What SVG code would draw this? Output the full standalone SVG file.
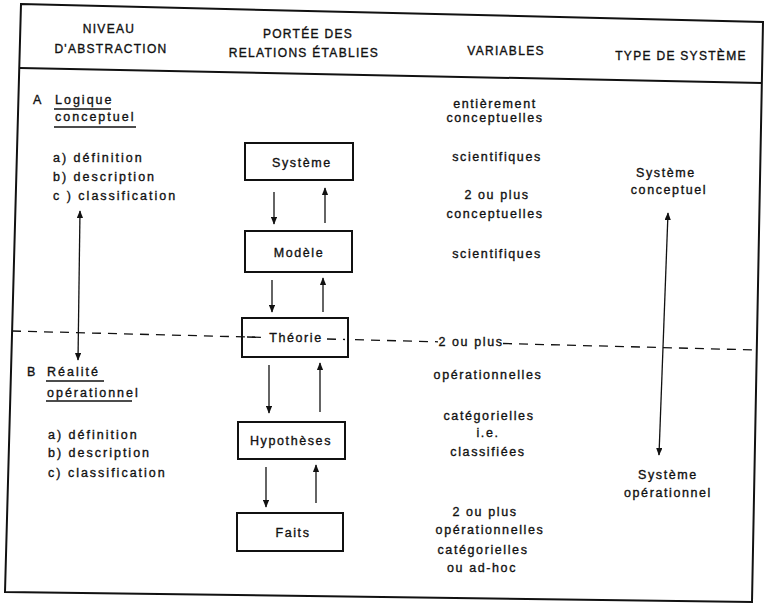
<svg xmlns="http://www.w3.org/2000/svg" width="766" height="606" viewBox="0 0 766 606">
<defs>
<style>
text{font-family:"Liberation Sans",Arial,sans-serif;fill:#111;stroke:#111;stroke-width:0.35px;}
.h{font-size:12px;letter-spacing:1.3px;text-anchor:middle;}
.t{font-size:12.5px;letter-spacing:2px;}
.c{font-size:12.5px;letter-spacing:1.6px;text-anchor:middle;}
.b{font-size:12.5px;letter-spacing:1.6px;text-anchor:middle;}
.frame{fill:none;stroke:#111;stroke-width:2;}
.box{fill:none;stroke:#111;stroke-width:2;}
.ar{stroke:#111;stroke-width:1.3;fill:none;marker-end:url(#ah);}
.dar{stroke:#111;stroke-width:1.3;fill:none;marker-start:url(#ah);marker-end:url(#ah);}
.ul{stroke:#111;stroke-width:1.5;}
.dash{stroke:#111;stroke-width:1.3;stroke-dasharray:9 7;fill:none;}
</style>
<marker id="ah" viewBox="0 0 10 8" refX="9" refY="4" markerWidth="8" markerHeight="6.4" markerUnits="userSpaceOnUse" orient="auto-start-reverse">
<path d="M0,0 L10,4 L0,8 z" fill="#111"/>
</marker>
</defs>

<g id="frame">
<path class="frame" d="M21,4 L763,22 L752,602 L5,592 Z"/>
<line class="frame" x1="20" y1="68" x2="762" y2="83"/>
</g>

<g id="headers">
<text class="h" x="109" y="33">NIVEAU</text>
<text class="h" x="111" y="53">D'ABSTRACTION</text>
<text class="h" x="308" y="38">PORTÉE DES</text>
<text class="h" x="304" y="57">RELATIONS ÉTABLIES</text>
<text class="h" x="506" y="55">VARIABLES</text>
<text class="h" x="681" y="60">TYPE DE SYSTÈME</text>
</g>

<g id="niveau-A">
<text class="t" x="33" y="104">A</text>
<text class="t" x="55" y="104">Logique</text>
<line class="ul" x1="54" y1="109" x2="111" y2="109"/>
<text class="t" x="55" y="121">conceptuel</text>
<line class="ul" x1="54" y1="127" x2="136" y2="127"/>
<text class="t" x="53" y="162">a)  définition</text>
<text class="t" x="53" y="181">b)  description</text>
<text class="t" x="53" y="200">c )  classification</text>
</g>

<g id="niveau-B">
<text class="t" x="27" y="376">B</text>
<text class="t" x="47" y="376">Réalité</text>
<line class="ul" x1="46" y1="381" x2="104" y2="381"/>
<text class="t" x="47" y="397">opérationnel</text>
<line class="ul" x1="46" y1="401" x2="132" y2="401"/>
<text class="t" x="48" y="439">a)  définition</text>
<text class="t" x="48" y="457">b)  description</text>
<text class="t" x="48" y="477">c)  classification</text>
</g>

<g id="connectors">
<line class="dash" x1="12" y1="331" x2="264" y2="337.4"/>
<line class="dash" x1="327" y1="339" x2="345" y2="339.5"/>
<line class="dash" x1="355" y1="339.7" x2="438" y2="341.8"/>
<line class="dash" x1="503" y1="343.5" x2="757" y2="350"/>
<line class="dar" x1="80" y1="211" x2="78" y2="360"/>
<line class="dar" x1="668" y1="213" x2="659" y2="455"/>
<line class="ar" x1="274" y1="192" x2="274" y2="224"/>
<line class="ar" x1="325" y1="223" x2="325" y2="188"/>
<line class="ar" x1="272" y1="280" x2="272" y2="312"/>
<line class="ar" x1="323" y1="312" x2="323" y2="278"/>
<line class="ar" x1="269" y1="365" x2="269" y2="413"/>
<line class="ar" x1="320" y1="412" x2="320" y2="363"/>
<line class="ar" x1="266" y1="467" x2="266" y2="507"/>
<line class="ar" x1="316" y1="503" x2="316" y2="465"/>
</g>

<g id="systeme">
<rect class="box" x="245" y="143" width="108" height="37"/>
<text class="b" x="302" y="167">Système</text>
</g>
<g id="modele">
<rect class="box" x="245" y="231" width="107" height="41"/>
<text class="b" x="299" y="257">Modèle</text>
</g>
<g id="theorie">
<rect class="box" x="242" y="318" width="106" height="39"/>
<line class="dash" x1="247" y1="337" x2="262" y2="337.4"/>
<text class="b" x="296" y="342">Théorie</text>
</g>
<g id="hypotheses">
<rect class="box" x="238" y="422" width="107" height="37"/>
<text class="b" x="291" y="445">Hypothèses</text>
</g>
<g id="faits">
<rect class="box" x="237" y="513" width="106" height="38"/>
<text class="b" x="293" y="537">Faits</text>
</g>

<g id="variables">
<text class="c" x="495" y="108">entièrement</text>
<text class="c" x="495" y="122">conceptuelles</text>
<text class="c" x="497" y="161">scientifiques</text>
<text class="c" x="497" y="199">2 ou plus</text>
<text class="c" x="495" y="218">conceptuelles</text>
<text class="c" x="497" y="258">scientifiques</text>
<text class="c" x="471" y="346">2 ou plus</text>
<text class="c" x="488" y="379">opérationnelles</text>
<text class="c" x="489" y="420">catégorielles</text>
<text class="c" x="488" y="437">i.e.</text>
<text class="c" x="488" y="456">classifiées</text>
<text class="c" x="485" y="516">2 ou plus</text>
<text class="c" x="490" y="534">opérationnelles</text>
<text class="c" x="483" y="554">catégorielles</text>
<text class="c" x="482" y="572">ou ad-hoc</text>
</g>

<g id="type-systeme">
<text class="c" x="666" y="177">Système</text>
<text class="c" x="669" y="194">conceptuel</text>
<text class="c" x="668" y="479">Système</text>
<text class="c" x="668" y="497">opérationnel</text>
</g>
</svg>
